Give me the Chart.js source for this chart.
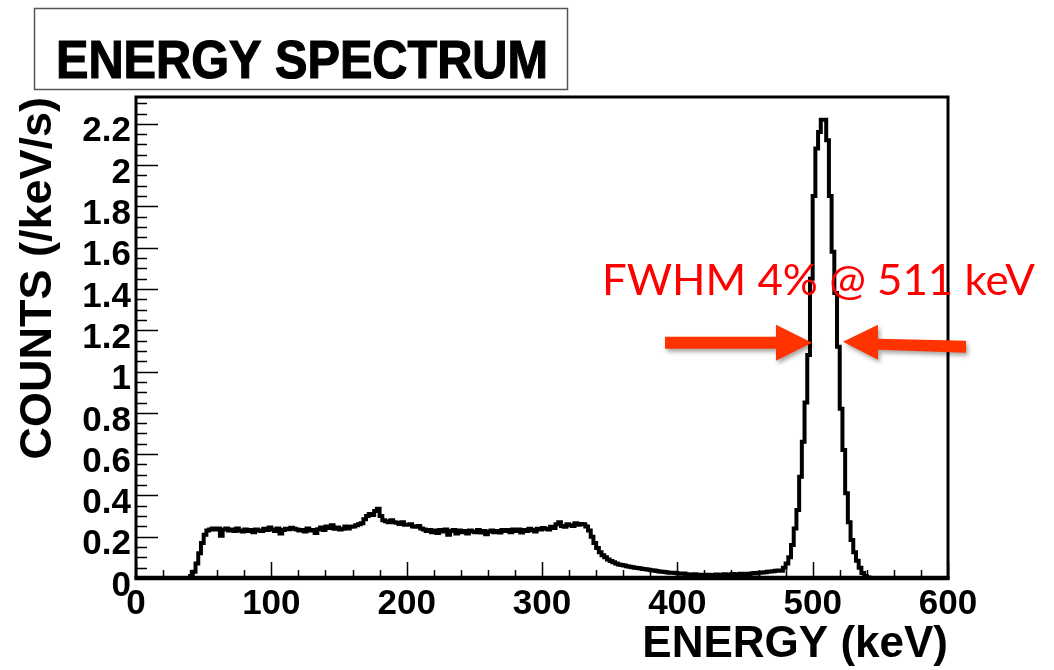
<!DOCTYPE html>
<html>
<head>
<meta charset="utf-8">
<style>
html,body{margin:0;padding:0;background:#ffffff;}
#wrap{width:1054px;height:670px;}
canvas{display:block;}
</style>
<script src="https://cdn.jsdelivr.net/npm/chart.js@4.4.1/dist/chart.umd.min.js"></script>
</head>
<body>
<div id="wrap"><canvas id="c" width="1054" height="670"></canvas></div>
<script>
// ---------------- data ----------------
const binWidthKeV = 2;
// counts per 2 keV bin, 0-200 keV
const countsA = [
  0,0,0,0,0,0,0,0,0,0, 0,0,0,0,0,0,0,0,0,0,
  0.01,0.03,0.07,0.12,0.17,0.21,0.23,0.235,0.24,
  0.235,0.24,0.205,0.235,0.24,0.23,0.235,0.228,0.24,0.23,
  0.225,0.235,0.228,0.232,0.222,0.235,0.23,0.228,0.238,0.232,
  0.245,0.235,0.228,0.24,0.215,0.232,0.238,0.236,0.244,0.238,
  0.235,0.23,0.232,0.225,0.24,0.23,0.232,0.218,0.236,0.245,
  0.232,0.25,0.242,0.255,0.238,0.245,0.235,0.238,0.25,0.24,
  0.248,
  0.25,0.255,0.26,0.265,0.285,0.3,0.31,0.305,0.325,0.335,
  0.3,0.28,0.275,0.27,0.28,0.27,0.268,0.262,0.27,0.258
];
// 200-400 keV
const countsB = [
  0.258,0.26,0.25,0.248,0.252,0.24,0.235,0.228,0.232,0.222,
  0.23,0.218,0.232,0.225,0.235,0.21,0.228,0.232,0.215,0.23,
  0.222,0.228,0.215,0.23,0.225,0.222,0.232,0.22,0.228,0.212,
  0.225,0.23,0.222,0.228,0.22,0.232,0.228,0.232,0.222,0.235,
  0.228,0.235,0.22,0.232,0.228,0.238,0.232,0.225,0.238,0.235,
  0.242,0.238,0.235,0.248,0.242,0.26,0.27,0.252,0.248,0.26,
  0.255,0.252,0.265,0.258,0.262,0.26,0.25,0.23,0.2,0.17,
  0.145,0.125,0.11,0.1,0.09,0.082,0.076,0.07,0.066,0.063,
  0.06,0.057,0.055,0.052,0.05,0.048,0.046,0.044,0.042,0.04,
  0.038,0.036,0.034,0.032,0.03,0.029,0.027,0.026,0.025,0.024
];
// 400-600 keV
const countsC = [
  0.022,0.02,0.022,0.018,0.017,0.016,0.018,0.015,0.016,0.014,
  0.015,0.016,0.014,0.015,0.017,0.014,0.016,0.018,0.015,0.017,
  0.019,0.016,0.018,0.02,0.019,0.021,0.019,0.022,0.024,0.022,
  0.025,0.027,0.028,0.03,0.032,
  0.033,0.035,0.036,0.035,
  0.05,0.07,0.1,0.16,0.24,0.33,0.49,0.66,0.85,1.08,
  1.45,1.85,2.08,2.16,2.22,2.22,2.12,1.85,1.58,1.38,
  1.12,0.82,0.62,0.41,0.27,0.184,0.125,0.083,0.05,0.024,
  0.01,0.003,
  0,0,0,0,0,0,0,0,0,0, 0,0,0,0,0,0,0,0,0,0, 0,0,0,0,0,0,0,0,0
];

const xTickValues = [0, 100, 200, 300, 400, 500, 600];
const xMinorStep = 20;
const yTickStep = 0.2;
const yMinorStep = 0.05;
const xRange = [0, 600];
const yRange = [0, 2.33];

const chartTitle = 'ENERGY SPECTRUM';
const xTitle = 'ENERGY (keV)';
const yTitle = 'COUNTS (/keV/s)';
const noteText = 'FWHM 4% @ 511 keV';
const noteAnchor = {x: 344.3, y: 1.37};      // keV, counts (text baseline start)
const fwhmLevel = 1.14;                       // counts
const fwhmEdgesKeV = [499.5, 522.4];          // arrow tips

// ---------------- build ----------------
const counts = countsA.concat(countsB, countsC);
const points = counts.map((v, i) => ({x: xRange[0] + i * binWidthKeV, y: v}));
points.push({x: xRange[0] + counts.length * binWidthKeV, y: counts[counts.length - 1]});

const boldFamily = '"Liberation Sans", Arial, Helvetica, sans-serif';

const framePlugin = {
  id: 'rootFrame',
  afterDatasetsDraw(chart) {
    const {ctx, chartArea: a, scales: {x, y}} = chart;
    ctx.save();
    ctx.strokeStyle = '#000';
    ctx.lineWidth = 1.5;
    ctx.beginPath();
    for (let v = xRange[0]; v <= xRange[1] + 1e-9; v += xMinorStep) {
      const px = Math.round(x.getPixelForValue(v)) + 0.5;
      const len = (Math.abs(v % 100) < 1e-6) ? 16 : 8;
      ctx.moveTo(px, a.bottom);
      ctx.lineTo(px, a.bottom - len);
    }
    for (let k = 0; k * yMinorStep <= yRange[1] + 1e-9; k++) {
      const v = k * yMinorStep;
      const py = Math.round(y.getPixelForValue(v)) + 0.5;
      const len = (k % Math.round(yTickStep / yMinorStep) === 0) ? 22 : 11;
      ctx.moveTo(a.left, py);
      ctx.lineTo(a.left + len, py);
    }
    ctx.stroke();
    ctx.lineWidth = 3;
    ctx.strokeRect(a.left, a.top, a.right - a.left, a.bottom - a.top);
    ctx.lineWidth = 4.5;
    ctx.beginPath();
    ctx.moveTo(a.left - 1.5, a.bottom);
    ctx.lineTo(a.right + 1.5, a.bottom);
    ctx.stroke();
    ctx.restore();
  }
};

const annotatePlugin = {
  id: 'annotate',
  afterDraw(chart) {
    const {ctx, scales: {x, y}} = chart;
    ctx.save();
    // title box
    ctx.strokeStyle = '#555';
    ctx.lineWidth = 1.5;
    ctx.strokeRect(34.5, 8.5, 533, 81);
    ctx.fillStyle = '#000';
    ctx.font = 'bold 54px ' + boldFamily;
    ctx.textBaseline = 'alphabetic';
    ctx.textAlign = 'left';
    const tw = ctx.measureText(chartTitle).width;
    ctx.save();
    ctx.translate(56, 78);
    ctx.scale(492 / tw, 1);
    ctx.lineWidth = 1.2;
    ctx.strokeStyle = '#000';
    ctx.strokeText(chartTitle, 0, 0);
    ctx.fillText(chartTitle, 0, 0);
    ctx.restore();

    // FWHM note
    ctx.fillStyle = '#ff0000';
    ctx.font = '42px Lato, "Open Sans", sans-serif';
    const nw = ctx.measureText(noteText).width;
    ctx.save();
    ctx.translate(x.getPixelForValue(noteAnchor.x), y.getPixelForValue(noteAnchor.y));
    ctx.scale(433 / nw, 1);
    ctx.fillText(noteText, 0, 0);
    ctx.restore();

    // arrows
    const ly = y.getPixelForValue(fwhmLevel);
    const lx = x.getPixelForValue(fwhmEdgesKeV[0]);
    const rx = x.getPixelForValue(fwhmEdgesKeV[1]);
    ctx.fillStyle = '#ff3300';
    ctx.shadowColor = 'rgba(0,0,0,0.35)';
    ctx.shadowBlur = 4;
    ctx.shadowOffsetX = 2;
    ctx.shadowOffsetY = 3;
    ctx.beginPath();
    ctx.moveTo(lx - 147, ly - 6);
    ctx.lineTo(lx - 36, ly - 6);
    ctx.lineTo(lx - 36, ly - 18);
    ctx.lineTo(lx, ly);
    ctx.lineTo(lx - 36, ly + 18);
    ctx.lineTo(lx - 36, ly + 6);
    ctx.lineTo(lx - 147, ly + 6);
    ctx.closePath();
    ctx.fill();
    ctx.beginPath();
    ctx.moveTo(rx, ly - 1);
    ctx.lineTo(rx + 35, ly - 18);
    ctx.lineTo(rx + 35, ly - 4);
    ctx.lineTo(rx + 123, ly - 2);
    ctx.lineTo(rx + 123, ly + 10);
    ctx.lineTo(rx + 35, ly + 7);
    ctx.lineTo(rx + 35, ly + 17);
    ctx.closePath();
    ctx.fill();
    ctx.restore();
  }
};

const tickFont = {family: boldFamily, weight: 'bold', size: 35};

new Chart(document.getElementById('c').getContext('2d'), {
  type: 'line',
  data: {
    datasets: [{
      data: points,
      borderColor: '#000',
      borderWidth: 4,
      pointRadius: 0,
      stepped: 'before',
      fill: false,
      tension: 0,
      borderJoinStyle: 'miter'
    }]
  },
  options: {
    responsive: false,
    animation: false,
    devicePixelRatio: 1,
    layout: {padding: {left: 0, top: 97, right: 106, bottom: 0}},
    plugins: {legend: {display: false}, tooltip: {enabled: false}, title: {display: false}},
    scales: {
      x: {
        type: 'linear',
        min: xRange[0], max: xRange[1],
        afterBuildTicks: s => { s.ticks = xTickValues.map(v => ({value: v})); },
        ticks: {font: tickFont, color: '#000', padding: 5, maxRotation: 0, autoSkip: false},
        grid: {display: false, drawTicks: false},
        border: {display: false},
        title: {display: true, text: xTitle, align: 'end', color: '#000',
                font: {family: boldFamily, weight: 'bold', size: 44, lineHeight: 1},
                padding: {top: 0, bottom: 3}},
        afterFit: s => { s.height = 92; }
      },
      y: {
        type: 'linear',
        min: yRange[0], max: yRange[1],
        ticks: {stepSize: yTickStep, includeBounds: false, autoSkip: false, font: tickFont, color: '#000',
                padding: 5, labelOffset: 8,
                callback: v => String(Number(v.toFixed(1)))},
        grid: {display: false, drawTicks: false},
        border: {display: false},
        title: {display: true, text: yTitle, align: 'end', color: '#000',
                font: {family: boldFamily, weight: 'bold', size: 45, lineHeight: 1},
                padding: {top: 16, bottom: 0}},
        afterFit: s => { s.width = 136; }
      }
    }
  },
  plugins: [framePlugin, annotatePlugin]
});
</script>
</body>
</html>
